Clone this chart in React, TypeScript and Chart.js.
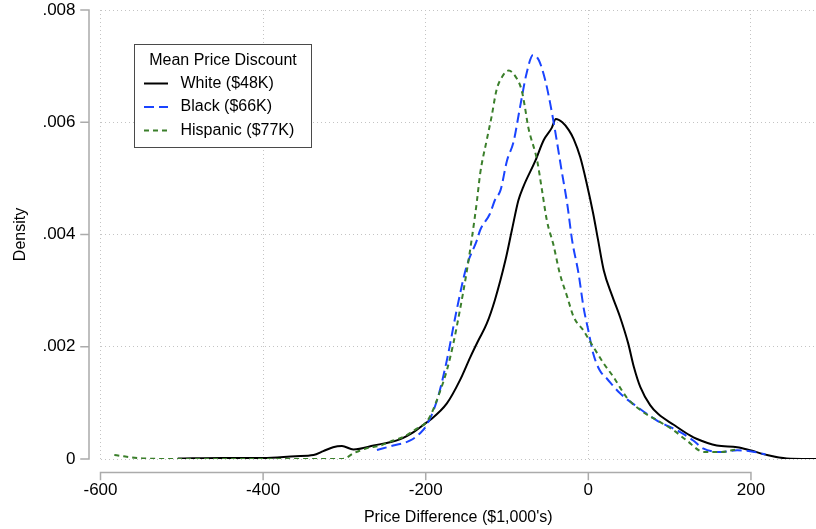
import React, { useEffect, useRef } from "react";
import { Chart, registerables } from "chart.js";

Chart.register(...registerables);

// ---- Data ----
const seriesLabels = ["White ($48K)", "Black ($66K)", "Hispanic ($77K)"];
const legendTitle = "Mean Price Discount";
const xTitle = "Price Difference ($1,000's)";
const yTitle = "Density";

const xTickValues = [-600, -400, -200, 0, 200];
const yTickValues = [0, 0.002, 0.004, 0.006, 0.008];
const yTickLabels = ["0", ".002", ".004", ".006", ".008"];

const whiteX = [-505, -450, -400, -360, -338, -326, -314, -303, -289, -264, -232, -215, -200, -195, -174, -158, -145, -135, -125, -115, -102, -94, -86, -80, -65, -55, -45, -40, -32, -24, -18, -10, -2, 6, 12, 19, 29, 39, 49, 56, 64, 76, 86, 105, 125, 133, 158, 183, 199, 220, 244, 280];
const whiteY = [0.00001, 0.00002, 0.00002, 0.00005, 0.00007, 0.00014, 0.00021, 0.00023, 0.00017, 0.00024, 0.00035, 0.00048, 0.00064, 0.00069, 0.00099, 0.0014, 0.00182, 0.00212, 0.00241, 0.00283, 0.00354, 0.00408, 0.00461, 0.00485, 0.00532, 0.00568, 0.0059, 0.00606, 0.006, 0.00586, 0.0057, 0.00538, 0.00491, 0.00437, 0.0039, 0.00336, 0.00292, 0.00253, 0.00206, 0.00164, 0.00128, 0.00096, 0.0008, 0.00061, 0.00042, 0.00036, 0.00024, 0.00021, 0.000155, 0.00007, 0.00001, 0.0];

const blackX = [-260, -240, -219, -207, -199, -186, -174, -162, -150, -137, -133, -121, -115, -108, -100, -92, -84, -76, -68, -61, -53, -47, -41, -33, -26, -20, -12, -6, 0, 6, 14, 23, 39, 60, 84, 113, 129, 141, 162, 183, 199, 218];
const blackY = [0.00016, 0.00024, 0.00033, 0.00046, 0.0006, 0.00105, 0.00176, 0.00265, 0.00342, 0.0039, 0.00408, 0.00437, 0.00461, 0.00479, 0.00532, 0.00565, 0.00627, 0.00687, 0.0072, 0.00711, 0.00675, 0.00634, 0.00586, 0.00515, 0.00455, 0.0039, 0.0033, 0.00271, 0.00229, 0.00188, 0.00158, 0.00143, 0.00117, 0.00093, 0.00069, 0.00048, 0.00033, 0.00019, 0.000125, 0.000155, 0.00014, 0.00008];

const hispX = [-583, -548, -500, -400, -302, -289, -273, -256, -240, -228, -211, -199, -193, -182, -174, -166, -158, -150, -143, -137, -133, -125, -119, -113, -106, -98, -88, -82, -78, -74, -63, -57, -51, -43, -35, -26, -18, -6, 6, 19, 31, 47, 64, 88, 105, 121, 142, 162, 182];
const hispY = [0.00007, 0.00001, 0.0, 0.0, 0.0, 0.0001, 0.00019, 0.00024, 0.00033, 0.00039, 0.00054, 0.00066, 0.00081, 0.00122, 0.00158, 0.00206, 0.00265, 0.0033, 0.00396, 0.0046, 0.00509, 0.00568, 0.0061, 0.00657, 0.00681, 0.00692, 0.00678, 0.00657, 0.00627, 0.00592, 0.00532, 0.00479, 0.00425, 0.00382, 0.0033, 0.00289, 0.00253, 0.00229, 0.002, 0.0017, 0.00146, 0.0011, 0.00087, 0.00066, 0.00051, 0.00033, 0.000125, 0.000125, 0.00017];

const FONT = "'Liberation Sans', Arial, Helvetica, sans-serif";
const zip = (xs: number[], ys: number[]) => xs.map((x, i) => ({ x, y: ys[i] }));

const stataAxes = {
  id: "stataAxes",
  afterDraw(chart: any) {
    const { ctx, chartArea, scales } = chart;
    const x = scales.x;
    const y = scales.y;
    ctx.save();
    ctx.strokeStyle = "#ababab";
    ctx.lineWidth = 1.5;
    ctx.lineCap = "square";
    const ax = chartArea.left - 11.5;
    ctx.beginPath();
    ctx.moveTo(ax, y.getPixelForValue(yTickValues[yTickValues.length - 1]));
    ctx.lineTo(ax, y.getPixelForValue(yTickValues[0]));
    yTickValues.forEach((v) => {
      const p = y.getPixelForValue(v);
      ctx.moveTo(ax - 8, p);
      ctx.lineTo(ax, p);
    });
    const ay = chartArea.bottom + 13.5;
    ctx.moveTo(x.getPixelForValue(xTickValues[0]), ay);
    ctx.lineTo(x.getPixelForValue(xTickValues[xTickValues.length - 1]), ay);
    xTickValues.forEach((v) => {
      const p = x.getPixelForValue(v);
      ctx.moveTo(p, ay);
      ctx.lineTo(p, ay + 7);
    });
    ctx.stroke();
    ctx.restore();
  },
};

const boxLegend = {
  id: "boxLegend",
  afterDraw(chart: any) {
    const { ctx, chartArea } = chart;
    const left = chartArea.left + 34;
    const top = chartArea.top + 34.5;
    const w = 177;
    const h = 103;
    ctx.save();
    ctx.fillStyle = "#ffffff";
    ctx.fillRect(left, top, w, h);
    ctx.strokeStyle = "#4a4a4a";
    ctx.lineWidth = 1;
    ctx.strokeRect(left, top, w, h);
    ctx.fillStyle = "#000";
    ctx.font = `16px ${FONT}`;
    ctx.textBaseline = "middle";
    ctx.textAlign = "center";
    ctx.fillText(legendTitle, left + w / 2, top + 16.5);
    ctx.textAlign = "left";
    chart.data.datasets.forEach((ds: any, i: number) => {
      const rowY = top + 39 + i * 23.5;
      ctx.beginPath();
      ctx.strokeStyle = ds.borderColor;
      ctx.lineWidth = ds.borderWidth;
      ctx.setLineDash(ds.borderDash || []);
      ctx.moveTo(left + 9.5, rowY);
      ctx.lineTo(left + 33.5, rowY);
      ctx.stroke();
      ctx.setLineDash([]);
      ctx.fillStyle = "#000";
      ctx.fillText(ds.label, left + 46, rowY);
    });
    ctx.restore();
  },
};

export default function App() {
  const ref = useRef<HTMLCanvasElement | null>(null);
  useEffect(() => {
    if (!ref.current) return;
    const chart = new Chart(ref.current, {
      type: "line",
      data: {
        datasets: [
          {
            label: seriesLabels[0],
            data: zip(whiteX, whiteY),
            borderColor: "#000000",
            borderWidth: 2,
            borderDash: [],
            pointRadius: 0,
            cubicInterpolationMode: "monotone",
            order: 3,
          },
          {
            label: seriesLabels[1],
            data: zip(blackX, blackY),
            borderColor: "#1a44ff",
            borderWidth: 2,
            borderDash: [10, 5],
            pointRadius: 0,
            cubicInterpolationMode: "monotone",
            order: 2,
          },
          {
            label: seriesLabels[2],
            data: zip(hispX, hispY),
            borderColor: "#3b7f2b",
            borderWidth: 2,
            borderDash: [5, 4],
            pointRadius: 0,
            cubicInterpolationMode: "monotone",
            order: 1,
          },
        ] as any,
      },
      options: {
        animation: false,
        responsive: true,
        maintainAspectRatio: false,
        layout: { padding: { top: 10, right: 0, bottom: 0, left: 0 } },
        plugins: {
          legend: { display: false },
          title: { display: false },
          tooltip: { enabled: false },
        },
        scales: {
          x: {
            type: "linear",
            min: -600,
            max: 280,
            afterBuildTicks: (s: any) => {
              s.ticks = xTickValues.map((v) => ({ value: v }));
            },
            afterFit: (s: any) => {
              s.height = 70;
              s.paddingLeft = 0;
              s.paddingRight = 0;
              s.paddingTop = 0;
              s.paddingBottom = 0;
            },
            grid: { color: "#c4c4c4", lineWidth: 1, drawTicks: false },
            border: { display: false, dash: [1, 3] },
            ticks: {
              padding: 21,
              color: "#000",
              font: { family: FONT, size: 17 },
              maxRotation: 0,
              callback: (v: any) => String(v),
            },
            title: {
              display: true,
              text: xTitle,
              color: "#000",
              font: { family: FONT, size: 16 },
              padding: { top: 0, bottom: 2 },
            },
          },
          y: {
            type: "linear",
            min: 0,
            max: 0.008,
            afterBuildTicks: (s: any) => {
              s.ticks = yTickValues.map((v) => ({ value: v }));
            },
            afterFit: (s: any) => {
              s.width = 100.5;
              s.paddingLeft = 0;
              s.paddingRight = 0;
              s.paddingTop = 0;
              s.paddingBottom = 0;
            },
            grid: { color: "#c4c4c4", lineWidth: 1, drawTicks: false },
            border: { display: false, dash: [1, 3] },
            ticks: {
              padding: 25,
              color: "#000",
              font: { family: FONT, size: 17 },
              callback: (_v: any, i: number) => yTickLabels[i],
            },
            title: {
              display: true,
              text: yTitle,
              color: "#000",
              font: { family: FONT, size: 16 },
              padding: { top: 11, bottom: 0 },
            },
          },
        },
      } as any,
      plugins: [stataAxes, boxLegend],
    });
    return () => chart.destroy();
  }, []);
  return (
    <div style={{ position: "absolute", left: 0, top: 0, width: 816, height: 529, background: "#fff" }}>
      <canvas ref={ref} />
    </div>
  );
}
